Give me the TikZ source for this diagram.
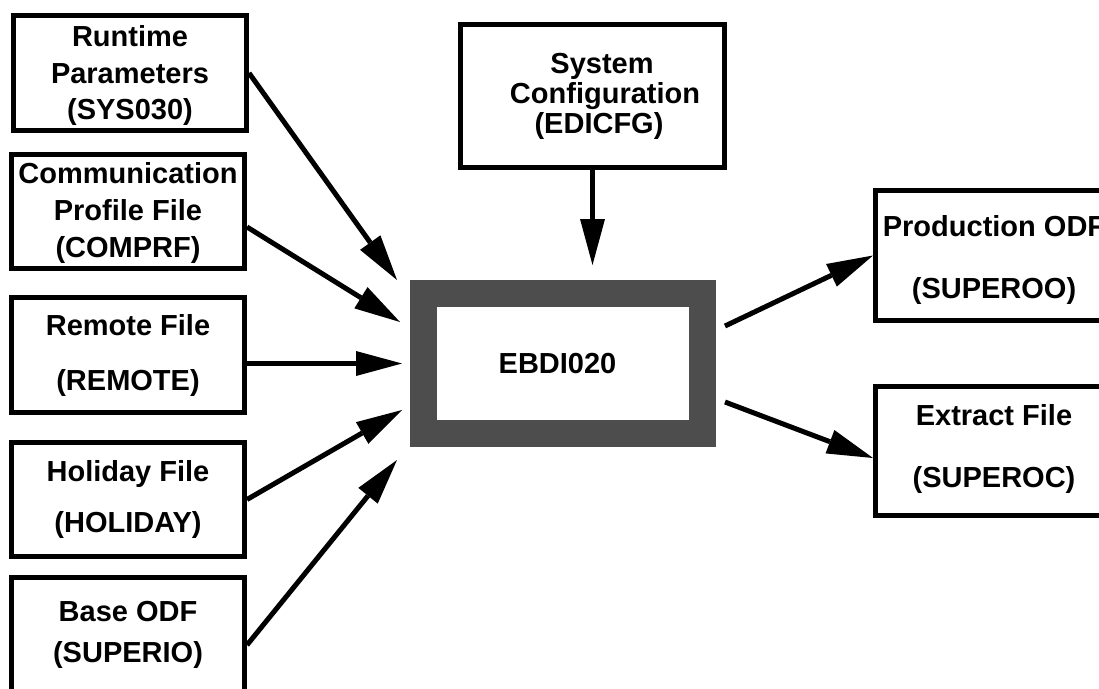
\documentclass[tikz,border=0pt]{standalone}
\usepackage{fontspec}
\setmainfont{Liberation Sans}
\usetikzlibrary{arrows.meta,calc}
\definecolor{frame}{HTML}{4D4D4D}
\begin{document}
\begin{tikzpicture}[x=1pt,y=-1pt,
  box/.style={draw,line width=5pt,minimum width=233pt,inner sep=0pt,align=center},
  f/.style={font=\bfseries\fontsize{29}{#1}\selectfont},
  arr/.style={line width=5pt,-{Triangle[length=46pt,width=25pt,line width=0pt]}},
]
\useasboundingbox (0,0) rectangle (1099,688);
\clip (0,0) rectangle (1099,688);

\node[box,f=36.5,minimum height=115pt] (rt) at (130,73) {\rule{0pt}{27pt}Runtime\\Parameters\\(SYS030)};
\node[box,f=37,minimum height=114pt] (cp) at (128,211.5) {\rule{0pt}{25pt}Communication\\Profile File\\(COMPRF)};
\node[box,f=55,minimum height=115pt] (rem) at (128,355) {Remote File\\(REMOTE)};
\node[box,f=51,minimum height=114pt] (hol) at (128,499.5) {Holiday File\\(HOLIDAY)};
\node[box,f=41,minimum height=115pt] (bas) at (128,635) {Base ODF\\(SUPERIO)};
\node[box,f=30,minimum width=264pt,minimum height=143pt] (sys) at (592.5,96) {\hspace*{19pt}System\\\hspace*{25pt}Configuration\\\hspace*{13pt}(EDICFG)};
\node[draw=frame,line width=27pt,minimum width=279pt,minimum height=140pt,inner sep=0pt,f=30] (e) at (563,363.5) {EBDI020\hspace*{11pt}};
\node[box,f=62,minimum width=237pt,minimum height=130pt] (prod) at (994,255.5) {\rule{0pt}{31pt}Production ODF\\(SUPEROO)};
\node[box,f=62,minimum width=237pt,minimum height=129pt] (ext) at (994,451) {Extract File\\(SUPEROC)\rule[-10pt]{0pt}{0pt}};

\draw[arr] (rt.east) -- ([xshift=-13pt]e.north west);
\draw[arr] ([yshift=-15.5pt]cp.east) -- ([xshift=-10pt,yshift=41.5pt]e.west);
\draw[arr] ([yshift=-8.5pt]rem.east) -- ([xshift=-8pt]e.west);
\draw[arr] (hol.east) -- ([xshift=-8pt,yshift=-46.5pt]e.west);
\draw[arr] ([yshift=-10pt]bas.east) -- ([xshift=-13pt,yshift=-13pt]e.south west);
\draw[arr] (sys.south) -- ([yshift=15pt]sys.south |- e.north);
\draw[arr] ([xshift=9pt,yshift=37.5pt]e.east) -- (prod.west);
\draw[arr] ([xshift=9pt,yshift=-38.5pt]e.east) -- ([yshift=-7pt]ext.west);
\end{tikzpicture}
\end{document}
